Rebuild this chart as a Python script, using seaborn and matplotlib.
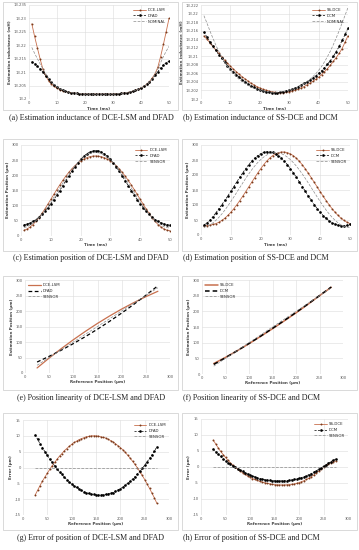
import matplotlib
matplotlib.use("Agg")
import matplotlib.pyplot as plt
import seaborn as sns
from matplotlib.ticker import FuncFormatter, FixedLocator
from matplotlib.patches import Rectangle

sns.set_theme(style="white")
plt.rcParams['font.family'] = ['DejaVu Sans']

# ---------------- data ----------------
time = list(range(1, 51))
ref = list(range(25, 280, 5))
ref_lin = [25, 50, 75, 100, 125, 150, 175, 200, 225, 250, 275]

a_dce = [13.2280, 13.2233, 13.2190, 13.2148, 13.2110, 13.2085, 13.2068, 13.2056, 13.2047, 13.2040,
         13.2035, 13.2031, 13.2028, 13.2026, 13.2024, 13.2022, 13.2021, 13.2020, 13.2019, 13.2018,
         13.2018, 13.2018, 13.2018, 13.2018, 13.2018, 13.2018, 13.2018, 13.2018, 13.2018, 13.2018,
         13.2019, 13.2020, 13.2021, 13.2022, 13.2024, 13.2026, 13.2029, 13.2032, 13.2036, 13.2041,
         13.2047, 13.2055, 13.2065, 13.2078, 13.2094, 13.2118, 13.2158, 13.2203, 13.2251, 13.2300]
a_dfad = [13.2139, 13.2132, 13.2123, 13.2112, 13.2100, 13.2087, 13.2074, 13.2062, 13.2052, 13.2044,
          13.2038, 13.2033, 13.2029, 13.2026, 13.2024, 13.2022, 13.2021, 13.2020, 13.2019, 13.2018,
          13.2018, 13.2018, 13.2018, 13.2018, 13.2018, 13.2018, 13.2018, 13.2018, 13.2018, 13.2018,
          13.2019, 13.2020, 13.2021, 13.2022, 13.2024, 13.2026, 13.2029, 13.2032, 13.2036, 13.2041,
          13.2047, 13.2054, 13.2063, 13.2074, 13.2088, 13.2102, 13.2115, 13.2127, 13.2135, 13.2140]
a_nom = [13.2192, 13.2170, 13.2150, 13.2130, 13.2112, 13.2094, 13.2078, 13.2064, 13.2053, 13.2045,
         13.2038, 13.2033, 13.2029, 13.2026, 13.2024, 13.2022, 13.2021, 13.2020, 13.2019, 13.2018,
         13.2018, 13.2018, 13.2018, 13.2018, 13.2018, 13.2018, 13.2018, 13.2018, 13.2018, 13.2018,
         13.2019, 13.2020, 13.2021, 13.2022, 13.2024, 13.2026, 13.2029, 13.2032, 13.2036, 13.2041,
         13.2047, 13.2054, 13.2063, 13.2075, 13.2093, 13.2112, 13.2135, 13.2158, 13.2178, 13.2196]

b_ss = [13.2148, 13.2140, 13.2132, 13.2123, 13.2115, 13.2107, 13.2099, 13.2091, 13.2084, 13.2077,
        13.2070, 13.2064, 13.2058, 13.2052, 13.2047, 13.2042, 13.2037, 13.2033, 13.2029, 13.2026,
        13.2023, 13.2021, 13.2019, 13.2017, 13.2016, 13.2015, 13.2015, 13.2015, 13.2016, 13.2017,
        13.2019, 13.2021, 13.2023, 13.2026, 13.2029, 13.2033, 13.2037, 13.2041, 13.2046, 13.2051,
        13.2057, 13.2064, 13.2071, 13.2079, 13.2088, 13.2097, 13.2107, 13.2118, 13.2133, 13.2148]
b_dcm = [13.2157, 13.2145, 13.2134, 13.2124, 13.2114, 13.2104, 13.2095, 13.2086, 13.2078, 13.2071,
         13.2063, 13.2057, 13.2051, 13.2045, 13.2040, 13.2035, 13.2031, 13.2027, 13.2024, 13.2021,
         13.2019, 13.2017, 13.2016, 13.2015, 13.2015, 13.2015, 13.2016, 13.2017, 13.2019, 13.2021,
         13.2023, 13.2026, 13.2029, 13.2033, 13.2037, 13.2040, 13.2044, 13.2049, 13.2054, 13.2060,
         13.2066, 13.2073, 13.2081, 13.2090, 13.2100, 13.2111, 13.2123, 13.2137, 13.2151, 13.2166]
b_nom = [13.2195, 13.2178, 13.2160, 13.2143, 13.2127, 13.2112, 13.2099, 13.2087, 13.2076, 13.2067,
         13.2059, 13.2052, 13.2046, 13.2041, 13.2036, 13.2032, 13.2028, 13.2025, 13.2023, 13.2021,
         13.2019, 13.2018, 13.2017, 13.2016, 13.2016, 13.2016, 13.2017, 13.2018, 13.2019, 13.2021,
         13.2023, 13.2025, 13.2028, 13.2032, 13.2036, 13.2041, 13.2046, 13.2052, 13.2059, 13.2067,
         13.2076, 13.2087, 13.2099, 13.2112, 13.2127, 13.2143, 13.2160, 13.2178, 13.2196, 13.2214]

c_dce = [17.6, 21.4, 27.7, 36.3, 46.9, 59.2, 73.0, 87.9, 103.7, 119.9,
         136.1, 152.2, 167.6, 182.4, 196.3, 209.0, 220.6, 230.8, 239.6, 247.0,
         253.1, 257.8, 261.1, 263.1, 263.8, 263.1, 261.1, 257.8, 253.1, 247.0,
         239.6, 230.8, 220.6, 209.0, 196.3, 182.4, 167.6, 152.2, 136.1, 119.9,
         103.7, 87.9, 73.0, 59.2, 46.9, 36.3, 27.7, 21.4, 17.6, 16.3]
c_dfad = [36.0, 38.1, 41.6, 46.6, 52.9, 60.7, 69.8, 80.3, 92.1, 105.0,
          118.9, 133.7, 149.1, 165.0, 181.0, 196.8, 212.2, 226.8, 240.1, 252.1,
          262.3, 270.5, 276.6, 280.2, 281.5, 280.2, 276.6, 270.5, 262.3, 252.1,
          240.1, 226.8, 212.2, 196.8, 181.0, 165.0, 149.1, 133.7, 118.9, 105.0,
          92.1, 80.3, 69.8, 60.7, 52.9, 46.6, 41.6, 38.1, 36.0, 35.3]
sensor = [26.0, 28.9, 33.8, 40.5, 48.9, 58.9, 70.3, 83.0, 96.8, 111.4,
          126.6, 142.2, 157.8, 173.4, 188.6, 203.2, 217.0, 229.7, 241.1, 251.1,
          259.5, 266.2, 271.1, 274.0, 275.0, 274.0, 271.1, 266.2, 259.5, 251.1,
          241.1, 229.7, 217.0, 203.2, 188.6, 173.4, 157.8, 142.2, 126.6, 111.4,
          96.8, 83.0, 70.3, 58.9, 48.9, 40.5, 33.8, 28.9, 26.0, 25.0]

d_ss = [31.0, 31.5, 33.0, 35.1, 38.1, 42.5, 48.5, 56.0, 65.1, 75.6,
        87.5, 100.5, 114.5, 129.2, 144.5, 160.1, 175.6, 190.9, 205.9, 220.4,
        233.8, 245.8, 256.0, 264.3, 270.5, 274.6, 276.7, 276.7, 274.6, 270.5,
        264.3, 256.0, 245.8, 233.8, 220.4, 205.9, 190.9, 175.6, 160.1, 144.5,
        129.2, 114.5, 100.5, 87.5, 75.6, 65.1, 56.0, 48.5, 42.5, 38.1]
d_dcm = [34.0, 40.0, 49.0, 61.0, 74.0, 88.0, 101.3, 115.4, 130.2, 145.7,
         161.4, 177.0, 192.3, 207.2, 221.4, 234.5, 246.1, 256.3, 264.6, 270.9,
         275.1, 277.3, 277.3, 275.1, 270.9, 264.6, 256.3, 246.1, 234.5, 221.4,
         207.2, 192.3, 177.0, 161.4, 145.7, 130.2, 115.4, 101.3, 88.0, 75.8,
         64.9, 55.3, 47.2, 40.6, 35.7, 32.4, 30.8, 30.8, 32.4, 35.7]

e_dce = [16.3, 48.2, 78.6, 107.3, 134.4, 160.0, 183.9, 206.3, 227.0, 246.2, 263.7]
e_dfad = [35.3, 53.8, 73.6, 94.8, 117.4, 141.4, 166.7, 193.3, 221.3, 250.7, 281.5]
f_ss = [33.4, 53.0, 74.3, 96.8, 120.3, 144.5, 169.5, 195.1, 222.0, 249.9, 276.9]
f_dcm = [30.6, 52.0, 74.4, 97.5, 121.2, 145.7, 170.8, 196.5, 223.0, 250.2, 277.5]

g_dce = [-8.7, -7.2, -5.7, -4.3, -3.0, -1.8, -0.6, 0.6, 1.6, 2.6,
         3.6, 4.4, 5.3, 6.0, 6.7, 7.3, 7.9, 8.3, 8.8, 9.1,
         9.4, 9.7, 9.8, 10.0, 10.0, 10.0, 9.9, 9.7, 9.5, 9.3,
         8.9, 8.5, 8.1, 7.5, 6.9, 6.3, 5.6, 4.8, 3.9, 3.0,
         2.0, 1.0, -0.1, -1.3, -2.5, -3.8, -5.2, -6.6, -8.1, -9.6, -11.3]
g_dfad = [10.3, 8.9, 7.5, 6.2, 5.0, 3.8, 2.6, 1.6, 0.5, -0.4,
          -1.4, -2.2, -3.1, -3.8, -4.5, -5.2, -5.8, -6.3, -6.8, -7.2,
          -7.6, -7.9, -8.2, -8.4, -8.5, -8.6, -8.7, -8.7, -8.6, -8.5,
          -8.3, -8.1, -7.9, -7.5, -7.1, -6.7, -6.2, -5.6, -5.0, -4.4,
          -3.7, -2.9, -2.1, -1.2, -0.3, 0.7, 1.8, 2.9, 4.0, 5.2, 6.5]
h_ss = [8.4, 7.2, 6.0, 4.9, 3.9, 3.0, 2.1, 1.3, 0.6, -0.1,
        -0.7, -1.3, -1.8, -2.3, -2.8, -3.2, -3.6, -3.9, -4.2, -4.5,
        -4.7, -4.9, -5.1, -5.25, -5.4, -5.5, -5.55, -5.6, -5.6, -5.6,
        -5.55, -5.5, -5.4, -5.3, -5.1, -4.9, -4.6, -4.3, -3.9, -3.5,
        -3.0, -2.5, -1.9, -1.3, -0.7, -0.1, 0.5, 1.0, 1.4, 1.7, 1.9]
h_dcm = [5.6, 4.8, 4.0, 3.3, 2.6, 2.0, 1.4, 0.9, 0.4, -0.1,
         -0.6, -1.0, -1.4, -1.8, -2.2, -2.5, -2.8, -3.1, -3.35, -3.6,
         -3.8, -3.95, -4.1, -4.2, -4.25, -4.3, -4.35, -4.35, -4.35, -4.3,
         -4.25, -4.15, -4.05, -3.9, -3.75, -3.55, -3.3, -3.05, -2.75, -2.4,
         -2.05, -1.65, -1.2, -0.75, -0.3, 0.2, 0.7, 1.2, 1.7, 2.1, 2.5]
sensor_err_x = [25, 275]
sensor_err = [0, 0]
sensor_lin = [25, 275]

ticks_a = [13.2, 13.205, 13.21, 13.215, 13.22, 13.225, 13.23, 13.235]
ticks_b = [13.2, 13.202, 13.204, 13.206, 13.208, 13.21, 13.212, 13.214, 13.216, 13.218, 13.22, 13.222]
ticks_t = [0, 10, 20, 30, 40, 50]
ticks_pos = [0, 50, 100, 150, 200, 250, 300]
ticks_err = [-15, -10, -5, 0, 5, 10, 15]

captions = ["(a) Estimation inductance of DCE-LSM and DFAD",
            "(b) Estimation inductance of SS-DCE and DCM",
            "(c) Estimation position of DCE-LSM and DFAD",
            "(d) Estimation position of SS-DCE and DCM",
            "(e) Position linearity of DCE-LSM and DFAD",
            "(f) Position linearity of SS-DCE and DCM",
            "(g) Error of position of DCE-LSM and DFAD",
            "(h) Error of position of SS-DCE and DCM"]

# ---------------- figure ----------------
W, H = 359, 550
fig = plt.figure(figsize=(W / 100, H / 100), dpi=100)


def frac(l, t, r, b):
    return [l / W, 1 - b / H, (r - l) / W, (b - t) / H]


ORANGE = '#c8704e'
ORANGE_M = '#7a3b1c'
GREY = '#8c8c8c'


def make_ax(box, xlim, ylim, xt, yt, xlabel, ylabel):
    ax = fig.add_axes(frac(*box))
    ax.set_xlim(*xlim)
    ax.set_ylim(*ylim)
    ax.xaxis.set_major_locator(FixedLocator(xt))
    ax.yaxis.set_major_locator(FixedLocator(yt))
    ax.yaxis.set_major_formatter(FuncFormatter(lambda v, p: f"{v:g}"))
    ax.xaxis.set_major_formatter(FuncFormatter(lambda v, p: f"{v:g}"))
    ax.grid(True, color='#dcdcdc', lw=0.4)
    for s in ax.spines.values():
        s.set_visible(False)
    ax.tick_params(labelsize=2.7, length=0, pad=1.6, colors='#595959')
    ax.set_xlabel(xlabel, fontsize=2.9, labelpad=0.8, color='#404040', fontweight='bold')
    ax.set_ylabel(ylabel, fontsize=2.9, labelpad=1.5, color='#404040', fontweight='bold')
    return ax


def leg(ax, loc):
    ax.legend(loc=loc, fontsize=2.8, frameon=False, handlelength=3.2,
              borderaxespad=0.4, labelspacing=0.45, handletextpad=0.5)


def orange(ax, x, y, label, mk=True, lw=0.6):
    sns.lineplot(x=x, y=y, ax=ax, color=ORANGE, lw=lw, label=label,
                 marker='o' if mk else None, markersize=1.4, markeredgewidth=0,
                 markerfacecolor=ORANGE_M)


def black(ax, x, y, label, mk=True, lw=0.5):
    sns.lineplot(x=x, y=y, ax=ax, color='black', lw=lw, linestyle=(0, (3, 2)), label=label,
                 marker='o' if mk else None, markersize=1.9, markeredgewidth=0)


def grey(ax, x, y, label):
    sns.lineplot(x=x, y=y, ax=ax, color=GREY, lw=0.5, linestyle=(0, (4, 2)), label=label)


# boxes and captions
rows = [(2, 110, 117), (139, 251, 258), (276, 390, 398), (413, 530, 538)]
for i, (top, bot, cap) in enumerate(rows):
    for j, (l, r) in enumerate([(3, 178), (182, 357)]):
        fig.add_artist(Rectangle((l / W, 1 - bot / H), (r - l) / W, (bot - top) / H,
                                 transform=fig.transFigure, fill=False, ec='#d3d3d3', lw=0.6))
        txt = captions[i * 2 + j]
        if j == 0:
            fig.text(91 / W, 1 - cap / H, txt, ha='center', va='center', fontsize=5.8,
                     family='Liberation Serif', color='#222222')
        else:
            fig.text(183 / W, 1 - cap / H, txt, ha='left', va='center', fontsize=5.8,
                     family='Liberation Serif', color='#222222')

LBL_L = 'Estimation inductance (mH)'
LBL_P = 'Estimation Position (μm)'

# (a)
ax = make_ax((29, 5, 169, 99), (0, 50), (13.2, 13.235), ticks_t, ticks_a, 'Time (ms)', LBL_L)
orange(ax, time, a_dce, 'DCE-LSM')
black(ax, time, a_dfad, 'DFAD')
grey(ax, time, a_nom, 'NOMINAL')
leg(ax, 'upper right')

# (b)
ax = make_ax((201, 5, 348, 99), (0, 50), (13.2, 13.222), ticks_t, ticks_b, 'Time (ms)', LBL_L)
orange(ax, time, b_ss, 'SS-DCE')
black(ax, time, b_dcm, 'DCM')
grey(ax, time, b_nom, 'NOMINAL')
leg(ax, 'upper right')

# (c)
ax = make_ax((21, 145, 170, 235.5), (0, 50), (0, 300), ticks_t, ticks_pos, 'Time (ms)', LBL_P)
orange(ax, time, c_dce, 'DCE-LSM')
black(ax, time, c_dfad, 'DFAD')
grey(ax, time, sensor, 'SENSOR')
leg(ax, 'upper right')

# (d)
ax = make_ax((201, 145, 350, 235), (0, 50), (0, 300), ticks_t, ticks_pos, 'Time (ms)', LBL_P)
orange(ax, time, d_ss, 'SS-DCE')
black(ax, time, d_dcm, 'DCM')
grey(ax, time, sensor, 'SENSOR')
leg(ax, 'upper right')

# (e)
ax = make_ax((25, 280, 170, 373), (0, 300), (0, 300), ticks_pos, ticks_pos,
             'Reference Position (μm)', LBL_P)
orange(ax, ref_lin, e_dce, 'DCE-LSM', mk=False, lw=0.9)
black(ax, ref_lin, e_dfad, 'DFAD', mk=False, lw=0.9)
grey(ax, sensor_lin, sensor_lin, 'SENSOR')
leg(ax, 'upper left')

# (f)
ax = make_ax((202, 280, 343, 374), (0, 300), (0, 300), ticks_pos, ticks_pos,
             'Reference Position (μm)', LBL_P)
orange(ax, ref_lin, f_ss, 'SS-DCE', mk=False, lw=1.1)
black(ax, ref_lin, f_dcm, 'DCM', mk=False, lw=1.1)
grey(ax, sensor_lin, sensor_lin, 'SENSOR')
leg(ax, 'upper left')

# (g)
ax = make_ax((23, 420, 169, 515), (0, 300), (-15, 15), ticks_pos, ticks_err,
             'Reference Position (μm)', 'Error (μm)')
orange(ax, ref, g_dce, 'DCE-LSM')
black(ax, ref, g_dfad, 'DFAD')
grey(ax, sensor_err_x, sensor_err, 'SENSOR')
leg(ax, 'upper right')

# (h)
ax = make_ax((201, 419, 348, 515), (0, 300), (-15, 15), ticks_pos, ticks_err,
             'Reference Position (μm)', 'Error (μm)')
orange(ax, ref, h_ss, 'SS-DCE')
black(ax, ref, h_dcm, 'DCM')
grey(ax, sensor_err_x, sensor_err, 'SENSOR')
leg(ax, 'upper right')

fig.savefig('out.png', dpi=100)
